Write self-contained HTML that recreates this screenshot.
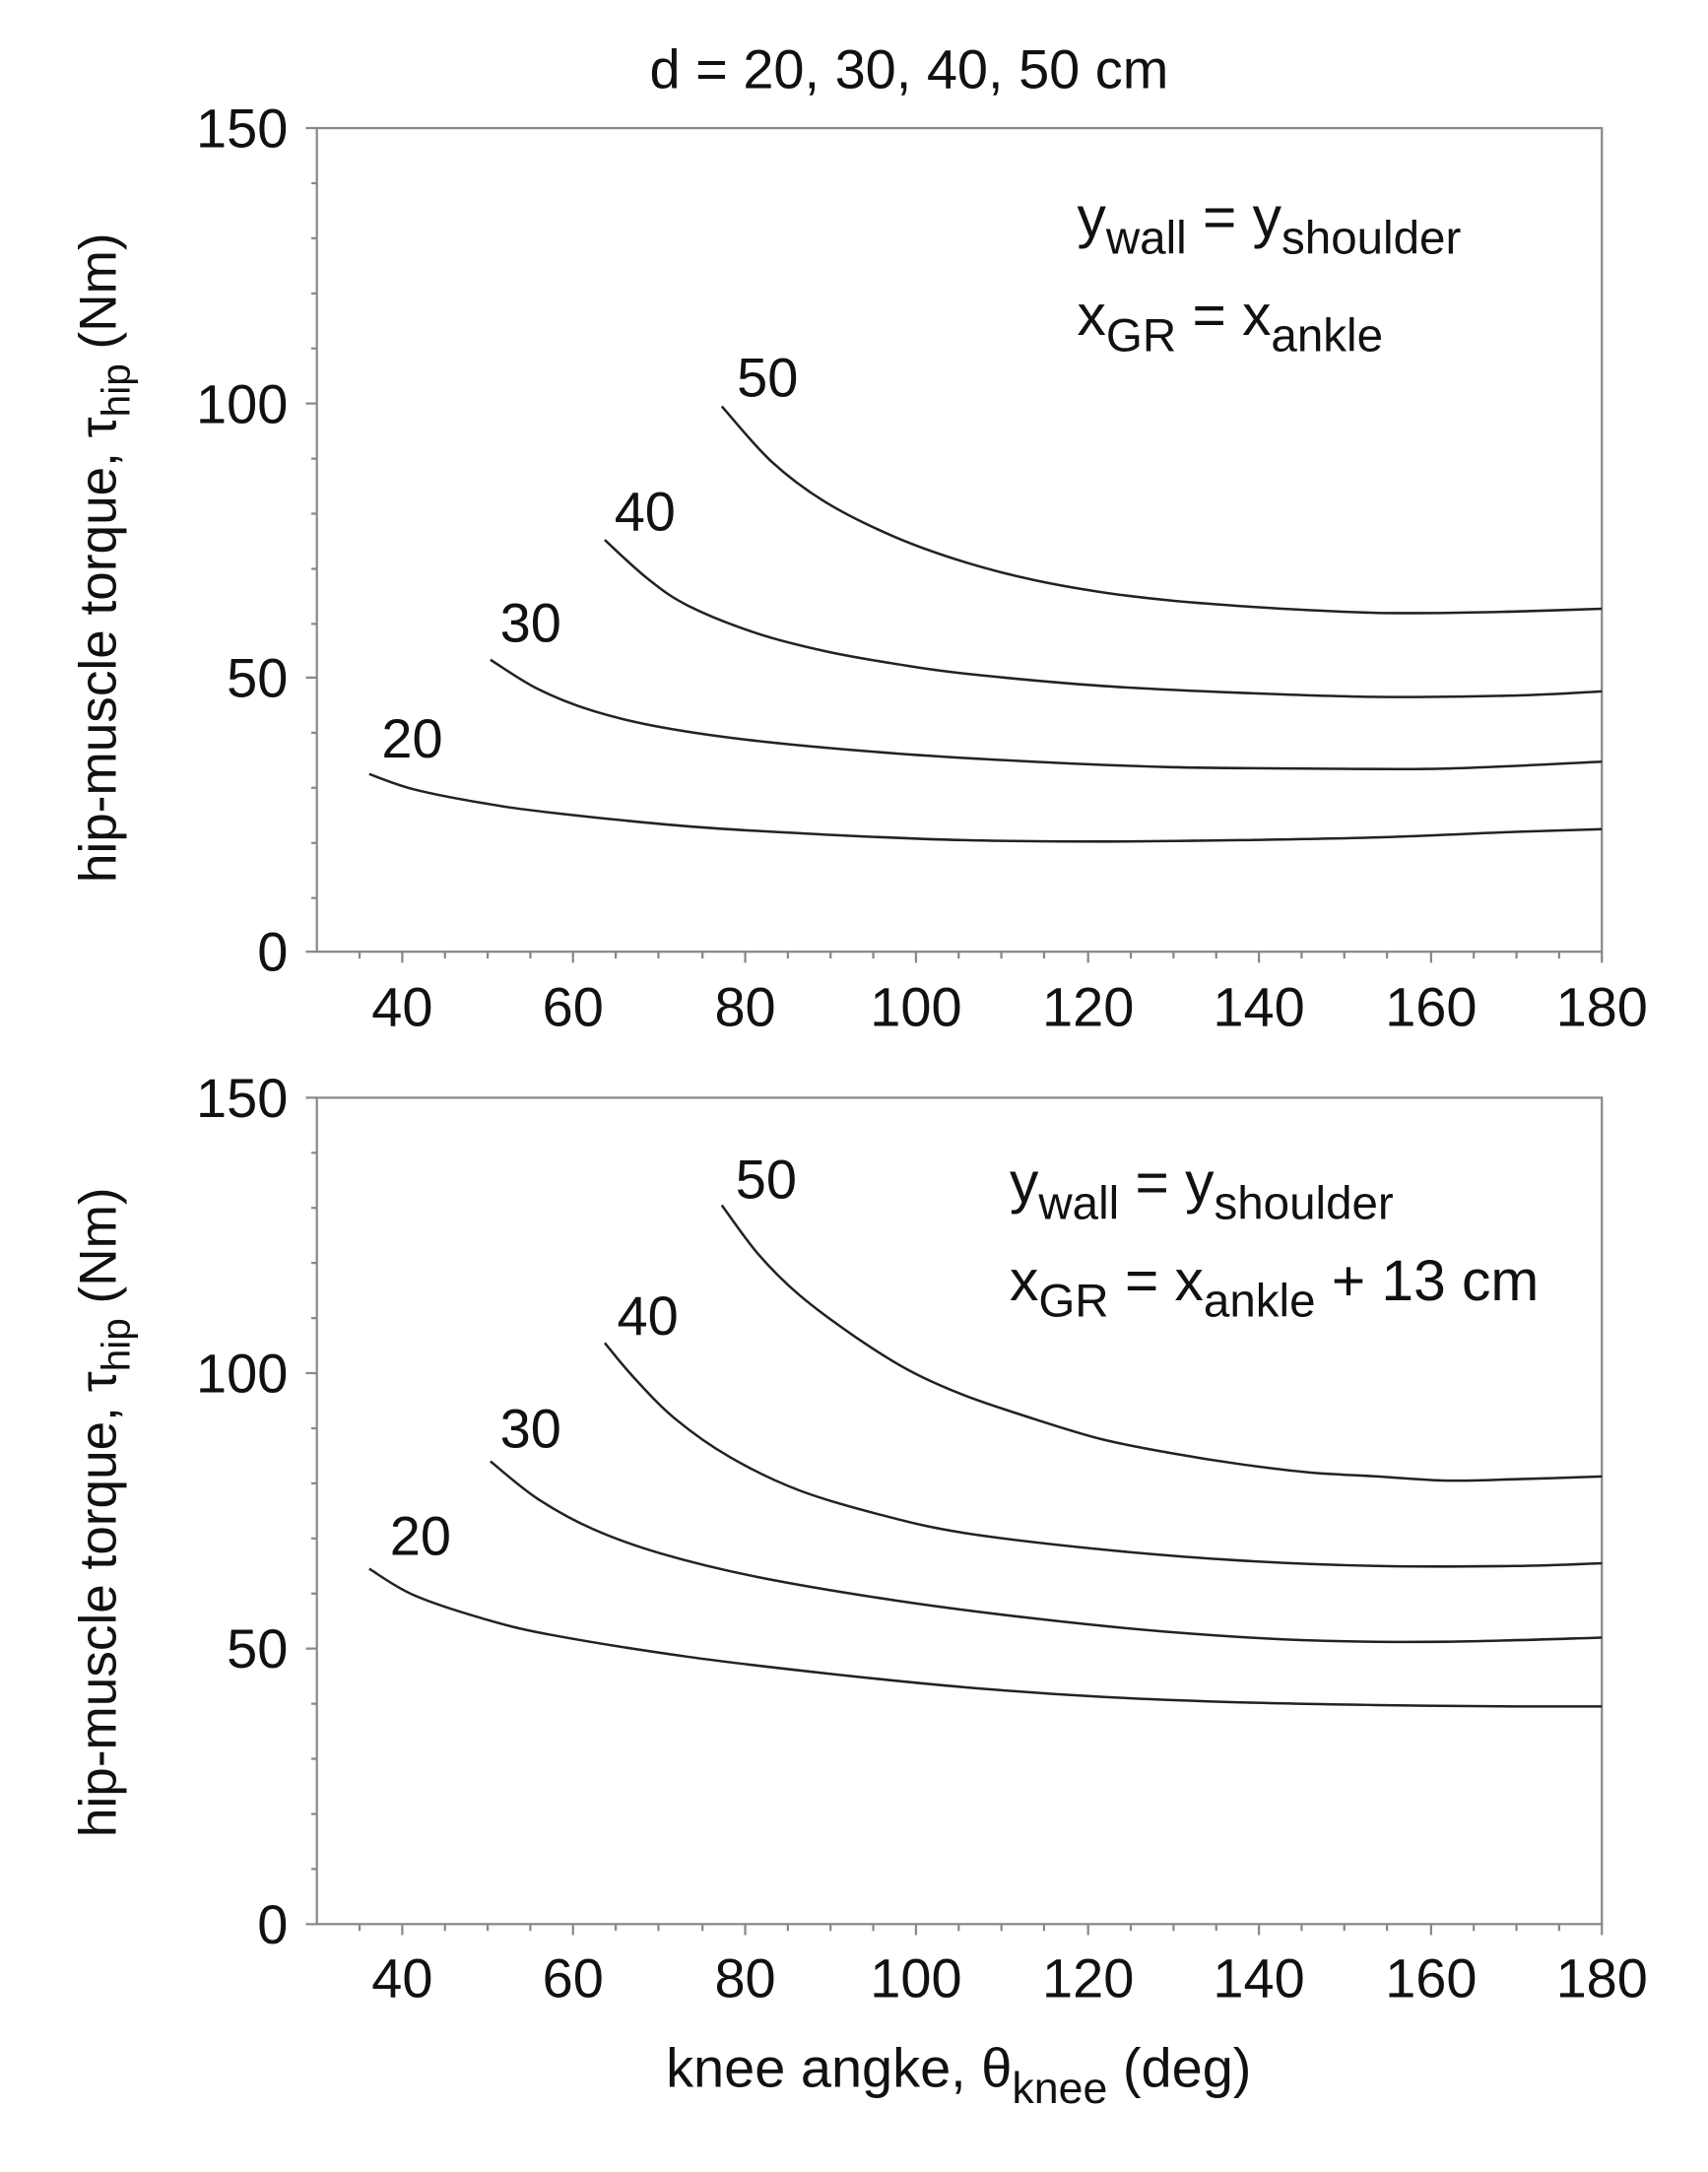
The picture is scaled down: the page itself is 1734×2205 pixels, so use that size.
<!DOCTYPE html>
<html><head><meta charset="utf-8"><style>html,body{margin:0;padding:0;background:#fff}svg{display:block}</style></head>
<body>
<svg width="1734" height="2205" viewBox="0 0 1240 1577" xmlns="http://www.w3.org/2000/svg" font-family="Liberation Sans, Arial, sans-serif" fill="#111">
<text x="660" y="64" font-size="40" text-anchor="middle">d = 20, 30, 40, 50 cm</text>
<g stroke="#888" stroke-width="1.6" fill="none">
<rect x="230" y="93" width="933" height="598"/>
<path d="M230,93h-8M230,293h-8M230,492h-8M230,691h-8
M230,133h-4M230,173h-4M230,213h-4M230,253h-4M230,333h-4M230,373h-4M230,413h-4M230,453h-4M230,532h-4M230,572h-4M230,612h-4M230,652h-4
M292,691v8M416,691v8M541,691v8M665,691v8M790,691v8M914,691v8M1039,691v8M1163,691v8
M261,691v5M323,691v5M354,691v5M385,691v5M447,691v5M478,691v5M510,691v5M572,691v5M603,691v5M634,691v5M696,691v5M727,691v5M758,691v5M821,691v5M852,691v5M883,691v5M945,691v5M976,691v5M1007,691v5M1070,691v5M1101,691v5M1132,691v5"/>
</g>
<g transform="translate(0,704)" stroke="#888" stroke-width="1.6" fill="none">
<rect x="230" y="93" width="933" height="600"/>
<path d="M230,93h-8M230,293h-8M230,493h-8M230,693h-8
M230,133h-4M230,173h-4M230,213h-4M230,253h-4M230,333h-4M230,373h-4M230,413h-4M230,453h-4M230,533h-4M230,573h-4M230,613h-4M230,653h-4
M292,693v8M416,693v8M541,693v8M665,693v8M790,693v8M914,693v8M1039,693v8M1163,693v8
M261,693v5M323,693v5M354,693v5M385,693v5M447,693v5M478,693v5M510,693v5M572,693v5M603,693v5M634,693v5M696,693v5M727,693v5M758,693v5M821,693v5M852,693v5M883,693v5M945,693v5M976,693v5M1007,693v5M1070,693v5M1101,693v5M1132,693v5"/>
</g>
<g font-size="40" text-anchor="end">
<text x="209" y="107">150</text><text x="209" y="307">100</text><text x="209" y="506">50</text><text x="209" y="705">0</text>
<text x="209" y="811">150</text><text x="209" y="1011">100</text><text x="209" y="1211">50</text><text x="209" y="1411">0</text>
</g>
<g font-size="40" text-anchor="middle">
<text x="292" y="745">40</text><text x="416" y="745">60</text><text x="541" y="745">80</text><text x="665" y="745">100</text><text x="790" y="745">120</text><text x="914" y="745">140</text><text x="1039" y="745">160</text><text x="1163" y="745">180</text>
<text x="292" y="1450">40</text><text x="416" y="1450">60</text><text x="541" y="1450">80</text><text x="665" y="1450">100</text><text x="790" y="1450">120</text><text x="914" y="1450">140</text><text x="1039" y="1450">160</text><text x="1163" y="1450">180</text>
</g>
<text transform="translate(84,405) rotate(-90)" font-size="38" text-anchor="middle">hip-muscle torque, τ<tspan font-size="29" dy="10">hip</tspan><tspan dy="-10"> (Nm)</tspan></text>
<text transform="translate(84,1098) rotate(-90)" font-size="38" text-anchor="middle">hip-muscle torque, τ<tspan font-size="29" dy="10">hip</tspan><tspan dy="-10"> (Nm)</tspan></text>
<text x="696" y="1515" font-size="40" text-anchor="middle">knee angke, θ<tspan font-size="32" dy="12">knee</tspan><tspan dy="-12"> (deg)</tspan></text>
<g font-size="42">
<text x="782" y="172">y<tspan font-size="34" dy="12">wall</tspan><tspan dy="-12"> = y</tspan><tspan font-size="34" dy="12">shoulder</tspan></text>
<text x="782" y="243">x<tspan font-size="34" dy="12">GR</tspan><tspan dy="-12"> = x</tspan><tspan font-size="34" dy="12">ankle</tspan></text>
<text x="733" y="873">y<tspan font-size="34" dy="12">wall</tspan><tspan dy="-12"> = y</tspan><tspan font-size="34" dy="12">shoulder</tspan></text>
<text x="733" y="944">x<tspan font-size="34" dy="12">GR</tspan><tspan dy="-12"> = x</tspan><tspan font-size="34" dy="12">ankle</tspan><tspan dy="-12"> + 13 cm</tspan></text>
</g>
<g font-size="40">
<text x="535" y="288">50</text><text x="446" y="385">40</text><text x="363" y="466">30</text><text x="277" y="550">20</text>
<text x="534" y="870">50</text><text x="448" y="969">40</text><text x="363" y="1051">30</text><text x="283" y="1129">20</text>
</g>
<g fill="none" stroke="#222" stroke-width="1.8" stroke-linejoin="round">
<polyline points="524,295 560,335 600,365 650,390 700,408 750,421 800,430 850,436 900,440 950,443 1000,445 1050,445 1100,444 1163,442"/>
<polyline points="439,392 470,420 500,440 550,460 600,473 650,482 700,489 800,498 900,503 1000,506 1100,505 1163,502"/>
<polyline points="356,479 390,500 430,516 480,528 550,538 650,547 750,553 850,557 950,558 1050,558 1163,553"/>
<polyline points="268,562 300,573 350,583 400,590 500,600 600,606 700,610 800,611 900,610 1000,608 1100,604 1163,602"/>
<polyline points="524,875 550,910 580,940 620,970 660,995 700,1013 750,1030 800,1045 850,1055 900,1063 950,1069 1000,1072 1050,1075 1100,1074 1163,1072"/>
<polyline points="439,975 460,1000 490,1030 530,1058 580,1082 640,1100 700,1113 800,1125 900,1133 1000,1137 1100,1137 1163,1135"/>
<polyline points="356,1061 390,1088 430,1110 480,1128 550,1145 650,1162 750,1175 850,1185 950,1191 1050,1192 1163,1189"/>
<polyline points="268,1139 300,1158 350,1175 400,1187 500,1203 600,1215 700,1225 800,1232 900,1236 1000,1238 1100,1239 1163,1239"/>
</g>
</svg>
<script>
document.querySelectorAll('polyline').forEach(function(pl){
var p=pl.getAttribute('points').trim().split(/\s+/).map(function(s){return s.split(',').map(Number);});
var d='M'+p[0][0]+','+p[0][1];
for(var i=0;i<p.length-1;i++){
var p0=p[i-1]||p[i],p1=p[i],p2=p[i+1],p3=p[i+2]||p2;
var c1=[p1[0]+(p2[0]-p0[0])/6,p1[1]+(p2[1]-p0[1])/6],c2=[p2[0]-(p3[0]-p1[0])/6,p2[1]-(p3[1]-p1[1])/6];
d+=' C'+c1[0]+','+c1[1]+' '+c2[0]+','+c2[1]+' '+p2[0]+','+p2[1];}
var path=document.createElementNS('http://www.w3.org/2000/svg','path');
path.setAttribute('d',d);pl.parentNode.replaceChild(path,pl);});
</script>
</body></html>
